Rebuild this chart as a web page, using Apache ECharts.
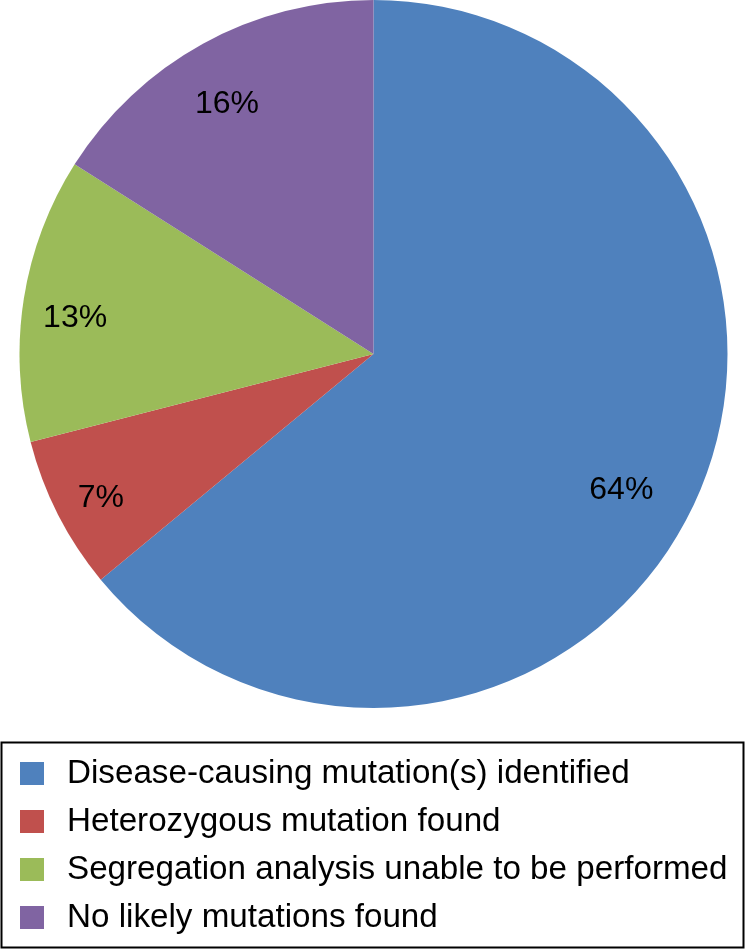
<!DOCTYPE html>
<html>
<head>
<meta charset="utf-8">
<script src="https://cdn.jsdelivr.net/npm/echarts@6/dist/echarts.min.js"></script>
<style>
html,body{margin:0;padding:0;background:#fff;}
#c{width:746px;height:951px;}
</style>
</head>
<body>
<div id="c"></div>
<script>
var categories = [
  'Disease-causing mutation(s) identified',
  'Heterozygous mutation found',
  'Segregation analysis unable to be performed',
  'No likely mutations found'
];
var values = [64, 7, 13, 16];
var colors = ['#4F81BD', '#C0504D', '#9BBB59', '#8064A2'];
var labelPads = [[0, 40, 0, 0], [0, 18, 0, 0], [0, 12, 0, 0], [0, 8, 0, 0]];

var pieData = categories.map(function (n, i) {
  return { name: n, value: values[i], itemStyle: { color: colors[i] } };
});
var labelData = categories.map(function (n, i) {
  return { name: n, value: values[i], itemStyle: { color: 'rgba(0,0,0,0)' },
           label: { padding: labelPads[i] } };
});

var chart = echarts.init(document.getElementById('c'), null, { renderer: 'canvas' });
chart.setOption({
  animation: false,
  backgroundColor: '#ffffff',
  textStyle: { fontFamily: 'Liberation Sans, Arial, sans-serif' },
  legend: {
    orient: 'vertical',
    left: 20,
    top: 757,
    padding: 0,
    itemWidth: 24,
    itemHeight: 23,
    itemGap: 15,
    icon: 'rect',
    selectedMode: false,
    data: categories,
    textStyle: {
      fontFamily: 'Liberation Sans, Arial, sans-serif',
      fontSize: 33.2,
      lineHeight: 33,
      color: '#000',
      padding: [0, 0, 0, 18]
    }
  },
  graphic: [{
    type: 'rect',
    shape: { x: 1.5, y: 742.5, width: 742, height: 205 },
    style: { fill: 'none', stroke: '#000', lineWidth: 2 },
    silent: true
  }],
  series: [{
    type: 'pie',
    center: [373.5, 354],
    radius: [0, 354],
    startAngle: 90,
    clockwise: true,
    data: pieData,
    label: { show: false },
    labelLine: { show: false },
    emphasis: { disabled: true },
    silent: true
  }, {
    type: 'pie',
    center: [373.5, 364],
    radius: [232, 354],
    startAngle: 90,
    clockwise: true,
    data: labelData,
    label: {
      show: true,
      position: 'inside',
      formatter: '{c}%',
      fontSize: 32,
      color: '#000',
      fontFamily: 'Liberation Sans, Arial, sans-serif'
    },
    labelLine: { show: false },
    emphasis: { disabled: true },
    silent: true
  }]
});
</script>
</body>
</html>
